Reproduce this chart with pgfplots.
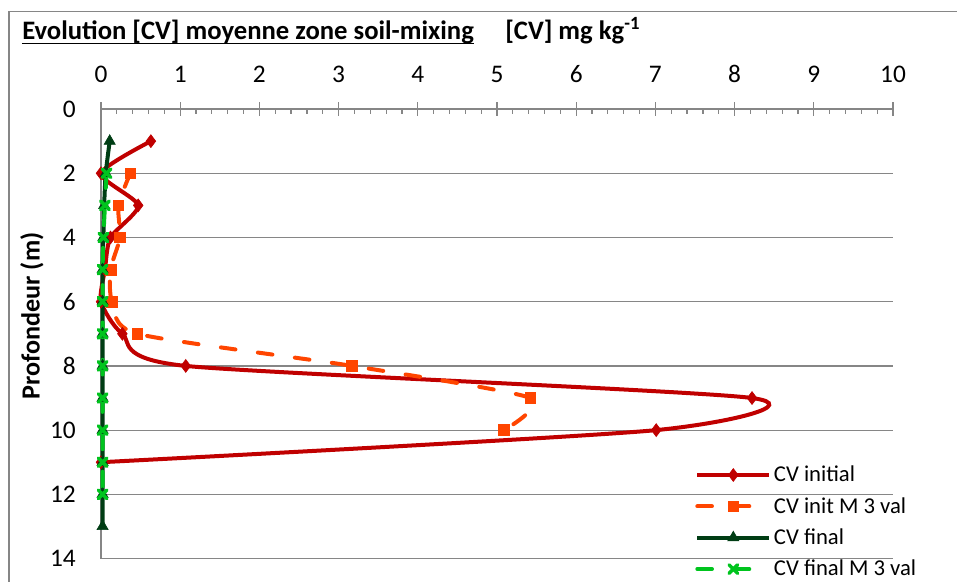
\documentclass[border=0pt]{standalone}
\usepackage{fontspec}
\setmainfont{Carlito}
\usepackage{pgfplots}
\pgfplotsset{compat=1.18}
\definecolor{cvini}{HTML}{C00000}
\definecolor{cvinim}{HTML}{FF4500}
\definecolor{cvfin}{HTML}{003D14}
\definecolor{cvfinm}{HTML}{00C41E}
\definecolor{axgray}{HTML}{868686}

\begin{document}
\begin{tikzpicture}
\begin{axis}[
  name=ax, at={(0,0)}, anchor=south west,
  scale only axis, width=594pt, height=337.1pt,
  xmin=0, xmax=10, ymin=0, ymax=14, y dir=reverse,
  axis x line*=top, axis y line*=left,
  axis line style={axgray, line width=0.9pt},
  xtick={0,...,10}, minor x tick num=4,
  ytick={0,2,...,14},
  ymajorgrids, grid style={axgray, line width=0.9pt},
  tick align=center, major tick length=10.5pt, minor tick length=3.75pt,
  x tick style={axgray, line width=0.9pt},
  minor x tick style={yshift=-1.875pt},
  y tick style={draw=none},
  ticklabel style={font=\fontsize{19}{22}\selectfont, text=black, inner sep=0pt},
  /pgf/number format/assume math mode=true,
  xticklabel style={anchor=base, yshift=14.5pt},
  yticklabel style={anchor=east, xshift=-13.5pt},
  clip=false,
  legend cell align=left,
  legend style={at={(axis description cs:0.745,0.218)}, anchor=north west,
    draw=none, fill=none, font=\fontsize{17}{20}\selectfont,
    row sep=6.2pt, /tikz/every even column/.append style={column sep=4.5pt}},
  legend image code/.code={\draw[mark repeat=2,mark phase=2]
    plot coordinates {(0pt,0pt) (27pt,0pt) (54pt,0pt)};},
]
\addplot[cvini, line width=3pt, smooth, tension=0.4, mark=diamond*,
  mark size=4.8pt, mark options={solid, line width=0.5pt}]
  coordinates {(0.63,1) (0,2) (0.47,3) (0.12,4) (0.05,5) (0,6) (0.27,7)
  (1.07,8) (8.22,9) (7.01,10) (0,11)};
\addlegendentry{CV initial}
\addplot[cvinim, line width=3pt, smooth, tension=0.4, line cap=round,
  dash pattern=on 11pt off 17pt, mark=square*, mark size=4pt,
  mark options={solid, line width=0.5pt}]
  coordinates {(0.37,2) (0.22,3) (0.24,4) (0.12,5) (0.14,6) (0.46,7)
  (3.17,8) (5.42,9) (5.09,10)};
\addlegendentry{CV init M 3 val}
\addplot[cvfin, line width=3pt, smooth, tension=0.4, mark=triangle*,
  mark size=4.8pt, mark options={solid, line width=0.5pt}]
  coordinates {(0.11,1) (0.06,2) (0.04,3) (0.03,4) (0.02,5) (0.02,6)
  (0.02,7) (0.02,8) (0.02,9) (0.02,10) (0.02,11) (0.02,12) (0.02,13)};
\addlegendentry{CV final}
\addplot[cvfinm, line width=3pt, smooth, tension=0.4, line cap=round,
  dash pattern=on 11pt off 17pt, mark=x, mark size=4.5pt,
  mark options={solid, line width=2.6pt}]
  coordinates {(0.07,2) (0.05,3) (0.03,4) (0.02,5) (0.02,6) (0.02,7)
  (0.02,8) (0.02,9) (0.02,10) (0.02,11) (0.02,12)};
\addlegendentry{CV final M 3 val}
\end{axis}
\node[anchor=base west, inner sep=0pt, font=\bfseries\fontsize{20}{24}\selectfont] (t)
  at (-59.25pt,388.9pt) {Evolution [CV] moyenne zone soil-mixing};
\draw[line width=1.2pt] ([yshift=-2.6pt]t.base west) -- ([yshift=-2.6pt]t.base east);
\node[anchor=base west, inner sep=0pt, font=\bfseries\fontsize{20}{24}\selectfont]
  at (303pt,388.9pt) {[CV] mg kg\textsuperscript{-1}};
\node[rotate=90, inner sep=0pt, font=\bfseries\fontsize{19.6}{23}\selectfont]
  at (-51.75pt,181.9pt) {Profondeur (m)};
\draw[axgray, line width=0.9pt] (-69pt,-40pt) -- (-69pt,410pt) -- (700pt,410pt);
\pgfresetboundingbox
\useasboundingbox (-75.75pt,-17.6pt) rectangle (642pt,418.9pt);
\end{tikzpicture}
\end{document}
